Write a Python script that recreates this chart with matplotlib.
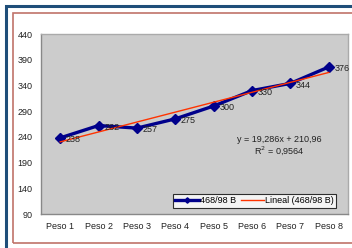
import matplotlib
matplotlib.use("Agg")
import matplotlib.pyplot as plt
from matplotlib.patches import Rectangle
import numpy as np

plt.rcParams['font.family'] = ['Liberation Sans', 'DejaVu Sans']

categories = ["Peso 1", "Peso 2", "Peso 3", "Peso 4", "Peso 5", "Peso 6", "Peso 7", "Peso 8"]
values = [238, 262, 257, 275, 300, 330, 344, 376]
slope, intercept = 19.286, 210.96
yticks = [90, 140, 190, 240, 290, 340, 390, 440]
series_name = "468/98 B"
trend_name = "Lineal (468/98 B)"
eq_text = "y = 19,286x + 210,96"
r2_text = "R$^2$ = 0,9564"

W, H = 352, 248
fig = plt.figure(figsize=(W/100, H/100), dpi=100)
fig.patch.set_facecolor("white")

# frames
fig.add_artist(Rectangle((6/W, -0.1), 1.2, (H-6)/H + 0.1, transform=fig.transFigure,
                         fill=False, edgecolor="#1f4e79", linewidth=2.2))
fig.add_artist(Rectangle((12.5/W, 1 - 243/H), 1.2, (243-13)/H, transform=fig.transFigure,
                         fill=False, edgecolor="#c0736a", linewidth=1.2))

FS = 6.5
ax = fig.add_axes([41/W, 1 - 214/H, (348-41)/W, (214-34)/H])
ax.set_facecolor("#cccccc")
x = np.arange(1, len(values) + 1)
ax.plot(x, values, color="#00008b", linewidth=2.4, marker="D", markersize=5.5,
        label=series_name, zorder=3)
ax.plot(x, slope * x + intercept, color="#ff3300", linewidth=1.0, label=trend_name, zorder=4)
for xi, v in zip(x, values):
    ax.annotate(str(v), (xi, v), xytext=(4, -3), textcoords="offset points",
                fontsize=FS, color="#222222", zorder=5)
ax.set_xlim(0.5, len(values) + 0.5)
ax.set_ylim(90, 440)
ax.set_yticks(yticks)
ax.set_xticks(x)
ax.set_xticklabels(categories)
ax.tick_params(axis="both", length=0, labelsize=FS, colors="#222222", pad=6)
for s in ["left", "bottom"]:
    ax.spines[s].set_color("#888888")
    ax.spines[s].set_linewidth(1.0)
for s in ["top", "right"]:
    ax.spines[s].set_color("#aaaaaa")
    ax.spines[s].set_linewidth(1.0)

ax.text(0.775, 0.40, eq_text, transform=ax.transAxes, fontsize=FS, ha="center", color="#222222")
ax.text(0.775, 0.335, r2_text, transform=ax.transAxes, fontsize=FS, ha="center", color="#222222")

leg = ax.legend(loc="lower right", bbox_to_anchor=(0.962, 0.035), ncol=2, fontsize=FS,
                frameon=True, fancybox=False, handlelength=2.6, handletextpad=0.15,
                columnspacing=0.5, borderpad=0.25, borderaxespad=0.0, markerscale=0.5)
leg.get_frame().set_edgecolor("black")
leg.get_frame().set_facecolor("white")
leg.get_frame().set_linewidth(0.8)

fig.savefig("out.png", dpi=100)
